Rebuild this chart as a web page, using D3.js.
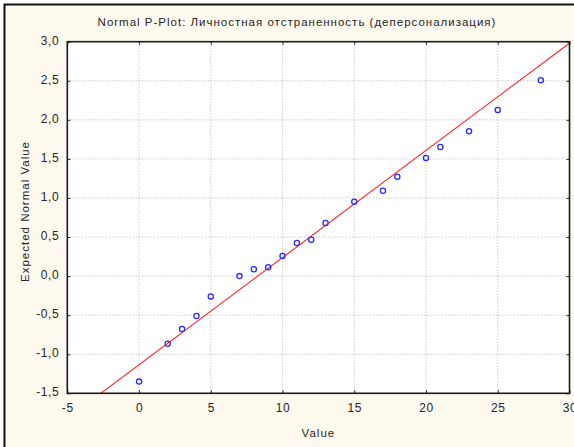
<!DOCTYPE html>
<html>
<head>
<meta charset="utf-8">
<script src="https://cdnjs.cloudflare.com/ajax/libs/d3/7.8.5/d3.min.js"></script>
<style>
  html, body { margin: 0; padding: 0; background: #fff; }
  svg { display: block; font-family: "Liberation Sans", Arial, sans-serif; }
</style>
</head>
<body>
<div id="content"></div>
<script>
var w = 574;
var h = 447;

var title = "Normal P-Plot: Личностная отстраненность (деперсонализация)";
var xLabel = "Value";
var yLabel = "Expected Normal Value";

var xTicks = [-5, 0, 5, 10, 15, 20, 25, 30];
var yTicks = [-1.5, -1.0, -0.5, 0.0, 0.5, 1.0, 1.5, 2.0, 2.5, 3.0];

var values   = [0, 2, 3, 4, 5, 7, 8, 9, 10, 11, 12, 13, 15, 17, 18, 20, 21, 23, 25, 28];
var expected = [-1.35, -0.865, -0.677, -0.51, -0.26, 0.0, 0.087, 0.113, 0.258, 0.424, 0.466, 0.68,
                0.952, 1.093, 1.272, 1.512, 1.652, 1.853, 2.126, 2.506];

// reference line of the plot
var fitIntercept = -1.135;
var fitSlope = 0.1372;

var labelFont = "Liberation Sans, Arial, sans-serif";
var textColor = "#262626";

var svg = d3.select("#content")
            .append("svg")
            .attr("width", w)
            .attr("height", h);

// outer frame
svg.append("rect")
   .attr("x", 4.5).attr("y", 4.5)
   .attr("width", 620).attr("height", 500)
   .attr("fill", "#fef9ee")
   .attr("stroke", "#111")
   .attr("stroke-width", 2);

// note: "top" is taken by window.top, so plot edges get their own names
var pLeft = 67.3, pRight = 569.5, pTop = 41.7, pBottom = 393.3;

var x = d3.scaleLinear().domain([-5, 30]).range([pLeft, pRight]);
var y = d3.scaleLinear().domain([-1.5, 3.0]).range([pBottom, pTop]);

var ru = d3.formatLocale({decimal: ",", thousands: " ", grouping: [3], currency: ["", ""], minus: "-"});
var fmtY = ru.format(".1f");
var fmtX = ru.format("d");

svg.append("rect")
   .attr("x", pLeft).attr("y", pTop)
   .attr("width", pRight - pLeft).attr("height", pBottom - pTop)
   .attr("fill", "#fff");

svg.append("clipPath").attr("id", "plotclip")
   .append("rect")
   .attr("x", pLeft).attr("y", pTop)
   .attr("width", pRight - pLeft).attr("height", pBottom - pTop);

// grid
var grid = svg.append("g").attr("class", "grid");
grid.selectAll("line.gx")
    .data(xTicks.slice(1, -1))
    .enter().append("line")
    .attr("x1", function(d){return x(d)}).attr("x2", function(d){return x(d)})
    .attr("y1", pTop).attr("y2", pBottom)
    .attr("stroke", "#b4b4b4").attr("stroke-width", 1)
    .attr("stroke-dasharray", "1,2");
grid.selectAll("line.gy")
    .data(yTicks.slice(1, -1))
    .enter().append("line")
    .attr("y1", function(d){return y(d)}).attr("y2", function(d){return y(d)})
    .attr("x1", pLeft).attr("x2", pRight)
    .attr("stroke", "#b4b4b4").attr("stroke-width", 1)
    .attr("stroke-dasharray", "1,2");

// axes (ticks inside on all four sides)
var axisColor = "#222";
var xAxisB = svg.append("g").attr("transform", "translate(0," + pBottom + ")")
   .call(d3.axisBottom(x).tickValues(xTicks).tickFormat(fmtX).tickSize(-3).tickPadding(10));
var xAxisT = svg.append("g").attr("transform", "translate(0," + pTop + ")")
   .call(d3.axisTop(x).tickValues(xTicks).tickFormat("").tickSize(-3));
var yAxisL = svg.append("g").attr("transform", "translate(" + pLeft + ",0)")
   .call(d3.axisLeft(y).tickValues(yTicks).tickFormat(fmtY).tickSize(-3).tickPadding(8));
var yAxisR = svg.append("g").attr("transform", "translate(" + pRight + ",0)")
   .call(d3.axisRight(y).tickValues(yTicks).tickFormat("").tickSize(-3));

[xAxisB, xAxisT, yAxisL, yAxisR].forEach(function(a){
    a.select(".domain").remove();
    a.selectAll(".tick line").attr("stroke", axisColor);
    a.selectAll("text")
     .attr("font-family", labelFont)
     .attr("font-size", 12)
     .attr("letter-spacing", 0.6)
     .attr("fill", textColor);
});
yAxisL.selectAll(".tick text").attr("dy", "0.2em");

// fitted line
var lineX = [-5, 30];
svg.append("line")
   .attr("clip-path", "url(#plotclip)")
   .attr("x1", x(lineX[0])).attr("y1", y(fitIntercept + fitSlope * lineX[0]))
   .attr("x2", x(lineX[1])).attr("y2", y(fitIntercept + fitSlope * lineX[1]))
   .attr("stroke", "#ff2020").attr("stroke-width", 1.1);

// points
svg.append("g")
   .selectAll("circle")
   .data(values)
   .enter().append("circle")
   .attr("cx", function(d){return x(d)})
   .attr("cy", function(d, i){return y(expected[i])})
   .attr("r", 2.6)
   .attr("fill", "none")
   .attr("stroke", "#2a2aff")
   .attr("stroke-width", 1.3);

// plot border
svg.append("rect")
   .attr("x", pLeft).attr("y", pTop)
   .attr("width", pRight - pLeft).attr("height", pBottom - pTop)
   .attr("fill", "none")
   .attr("stroke", "#1a1a1a")
   .attr("stroke-width", 1.6);

// title and axis labels (spaced out like the original's screen font)
svg.append("text")
   .attr("x", 297).attr("y", 26)
   .attr("text-anchor", "middle")
   .attr("font-family", labelFont)
   .attr("font-size", 11.5)
   .attr("letter-spacing", 1)
   .attr("fill", textColor)
   .text(title);

svg.append("text")
   .attr("x", (pLeft + pRight) / 2).attr("y", 437)
   .attr("text-anchor", "middle")
   .attr("font-family", labelFont)
   .attr("font-size", 11.5)
   .attr("letter-spacing", 1)
   .attr("fill", textColor)
   .text(xLabel);

svg.append("text")
   .attr("transform", "translate(29," + ((pTop + pBottom) / 2 - 6) + ") rotate(-90)")
   .attr("text-anchor", "middle")
   .attr("font-family", labelFont)
   .attr("font-size", 11.5)
   .attr("letter-spacing", 1)
   .attr("fill", textColor)
   .text(yLabel);
</script>
</body>
</html>
